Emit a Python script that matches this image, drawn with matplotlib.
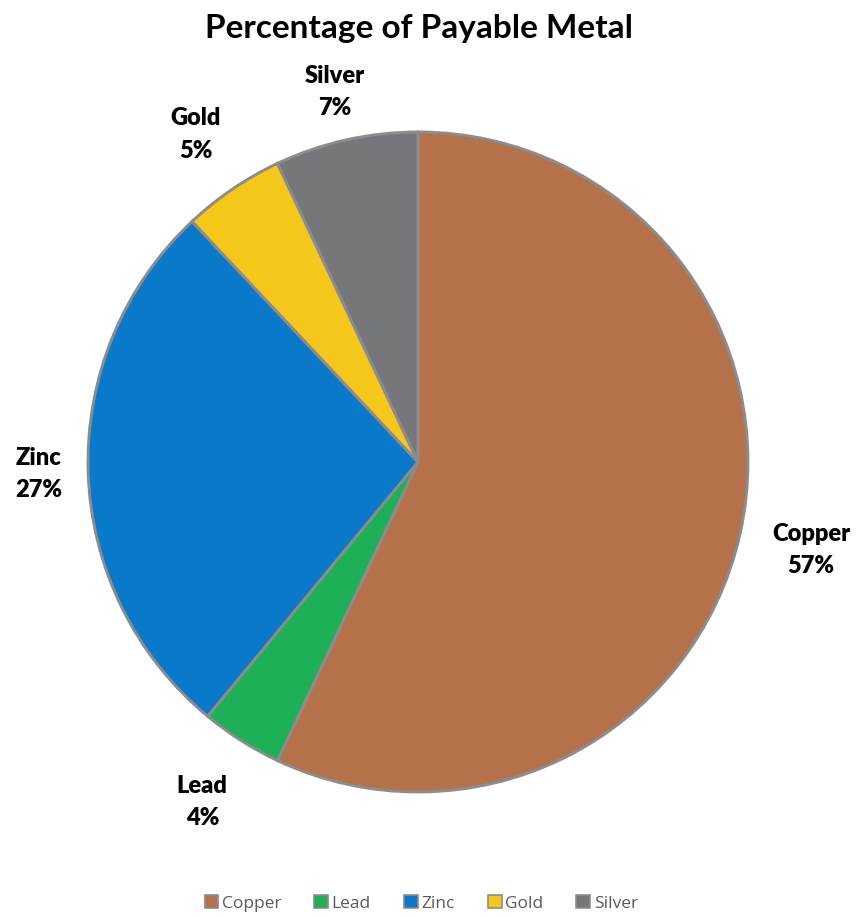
import numpy as np
import matplotlib.pyplot as plt
from matplotlib.patches import Patch

# Data
metals = ["Copper", "Lead", "Zinc", "Gold", "Silver"]
shares = [57, 4, 27, 5, 7]
colors = ["#B5714A", "#1DB057", "#0B79C9", "#F5C71A", "#76777A"]

# distance of each data label from the centre (in radii)
label_dist = [1.22, 1.22, 1.15, 1.2, 1.15]

plt.rcParams["font.family"] = ["Lato", "DejaVu Sans"]

fig = plt.figure(figsize=(8.56, 9.16), dpi=100)
ax = fig.add_axes([0.1028, 0.1354, 0.771, 0.7205])

labels = [f"{m}\n{s}%" for m, s in zip(metals, shares)]
wedges, texts = ax.pie(shares, colors=colors, labels=labels, startangle=90,
                       counterclock=False, labeldistance=1.18, radius=1,
                       wedgeprops=dict(edgecolor="#8C8C8C", linewidth=2.1))
for w, t, d in zip(wedges, texts, label_dist):
    ang = np.deg2rad((w.theta1 + w.theta2) / 2)
    t.set_position((d * np.cos(ang), d * np.sin(ang)))
    t.set_ha("center")
    t.set_va("center")
    t.set_fontsize(17)
    t.set_fontweight("heavy")
    t.set_linespacing(1.57)
ax.set_xlim(-1, 1)
ax.set_ylim(-1, 1)

fig.text(0.49, 0.969, "Percentage of Payable Metal", fontsize=24,
         fontweight="bold", ha="center", va="center")

handles = [Patch(facecolor=c, edgecolor="#8C8C8C", linewidth=1.2) for c in colors]
fig.legend(handles, metals, loc="center", bbox_to_anchor=(0.492, 0.014), ncol=5,
           frameon=False, handlelength=0.8, handleheight=0.8, handletextpad=0.2,
           columnspacing=1.9, labelcolor="#595959",
           prop={"family": ["Open Sans", "DejaVu Sans"], "size": 12.5})

fig.savefig("out.png", dpi=100)
